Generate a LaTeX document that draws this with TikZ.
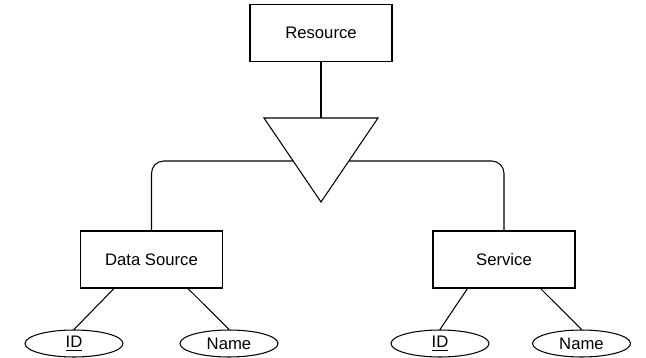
\documentclass[tikz,border=0pt]{standalone}
\usepackage{fontspec}
\setmainfont{Liberation Sans}
\usetikzlibrary{shapes.geometric}

\begin{document}
\begin{tikzpicture}[x=0.02cm, y=-0.02cm, line width=0.6pt,
  font=\fontsize{9.5}{11}\selectfont,
  entity/.style={draw, rectangle, minimum width=2.84cm, minimum height=1.14cm},
  attr/.style={draw, ellipse, minimum width=1.96cm, minimum height=0.54cm, inner sep=0pt}]
\useasboundingbox (0,0) rectangle (646,358);
\node[entity] at (321,33) (res) {Resource};
\node[entity] at (151.5,259.5) (ds) {Data Source};
\node[entity] at (504,259.5) (sv) {Service};
\node[attr] at (74,343.5) (dsid) {\underline{ID}};
\node[attr] at (229,343.5) (dsname) {Name};
\node[attr] at (440,343.5) (svid) {\underline{ID}};
\node[attr] at (581.5,343.5) (svname) {Name};
\coordinate (isa) at (321,118);
\coordinate (hub) at (321,161);
% links
\draw (res) -- (isa);
\draw[rounded corners=7pt] (ds.north) |- (hub) -| (sv.north);
\draw[fill=white] (264,118) -- (378,118) -- (321,202) -- cycle;
\draw (ds.south west) ++(34,0) -- (dsid.north);
\draw (ds.south east) ++(-35,0) -- (dsname.north);
\draw (sv.south west) ++(35,0) -- (svid.north);
\draw (sv.south east) ++(-35,0) -- (svname.north);
\end{tikzpicture}
\end{document}
